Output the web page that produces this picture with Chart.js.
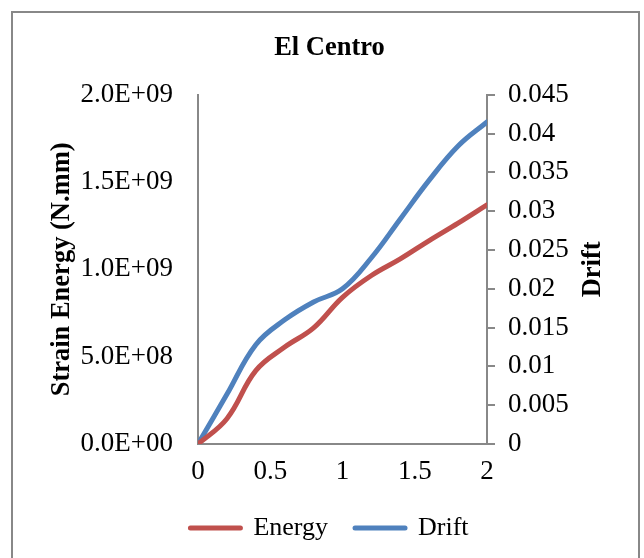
<!DOCTYPE html>
<html>
<head>
<meta charset="utf-8">
<title>El Centro</title>
<script src="https://cdn.jsdelivr.net/npm/chart.js@4"></script>
<style>
  html, body { margin: 0; padding: 0; background: #fff; }
  #wrap { position: relative; width: 644px; height: 558px; }
</style>
</head>
<body>
<div id="wrap"><canvas id="energyChart" width="644" height="558"></canvas></div>
<script>
// Data
const xValues = [0, 0.2, 0.4, 0.6, 0.8, 1.0, 1.2, 1.4, 1.6, 1.8, 2.0];
const energyValues = [0, 1.45e8, 4.2e8, 5.55e8, 6.65e8, 8.4e8, 9.65e8, 1.06e9, 1.165e9, 1.265e9, 1.37e9];
const driftValues = [0, 0.0064, 0.0128, 0.016, 0.0183, 0.0200, 0.0240, 0.0290, 0.0340, 0.0384, 0.0415];
const xTicks = [0, 0.5, 1, 1.5, 2];
const energyTicks = [0, 5e8, 1e9, 1.5e9, 2e9];
const driftTicks = [0, 0.005, 0.01, 0.015, 0.02, 0.025, 0.03, 0.035, 0.04, 0.045];

const SERIF = "'Liberation Serif', 'Times New Roman', serif";
const AXIS_GREY = '#888888';

// 2.0E+09 style labels
const formatSci = (v) => {
  if (v === 0) return '0.0E+00';
  const exp = Math.floor(Math.log10(Math.abs(v)));
  const mant = v / Math.pow(10, exp);
  return mant.toFixed(1) + 'E+' + String(exp).padStart(2, '0');
};

const formatDrift = (v) => String(Number(v.toFixed(3)));

const toPoints = (ys) => xValues.map((x, i) => ({ x: x, y: ys[i] }));

// outer frame + rotated right axis title
const framePlugin = {
  id: 'frame',
  beforeDraw(chart) {
    const ctx = chart.ctx;
    ctx.save();
    ctx.fillStyle = '#fff';
    ctx.fillRect(0, 0, chart.width, chart.height);
    ctx.strokeStyle = AXIS_GREY;
    ctx.lineWidth = 2;
    ctx.strokeRect(12, 12, 627, 560);
    ctx.restore();
  },
  afterDraw(chart) {
    const ctx = chart.ctx;
    const area = chart.chartArea;
    ctx.save();
    ctx.translate(area.right + 106, (area.top + area.bottom) / 2);
    ctx.rotate(-Math.PI / 2);
    ctx.font = 'bold 26.5px ' + SERIF;
    ctx.fillStyle = '#000';
    ctx.textAlign = 'center';
    ctx.textBaseline = 'middle';
    ctx.fillText('Drift', 0, 0);
    ctx.restore();
  }
};

Chart.defaults.color = '#000';
Chart.defaults.font.family = SERIF;

// legend samples drawn as a thick stroke only (rounded like the lines)
const legendLabels = (chart) =>
  Chart.defaults.plugins.legend.labels.generateLabels(chart).map(item => ({
    ...item,
    lineWidth: 5,
    lineCap: 'round',
    lineJoin: 'round'
  }));

new Chart(document.getElementById('energyChart'), {
  type: 'line',
  data: {
    datasets: [
      {
        label: 'Energy',
        data: toPoints(energyValues),
        yAxisID: 'y',
        borderColor: '#C0504D',
        backgroundColor: '#C0504D',
        borderWidth: 5,
        borderCapStyle: 'round',
        borderJoinStyle: 'round',
        pointRadius: 0,
        tension: 0.4
      },
      {
        label: 'Drift',
        data: toPoints(driftValues),
        yAxisID: 'y1',
        borderColor: '#4F81BD',
        backgroundColor: '#4F81BD',
        borderWidth: 5,
        borderCapStyle: 'round',
        borderJoinStyle: 'round',
        pointRadius: 0,
        tension: 0.4
      }
    ]
  },
  options: {
    responsive: false,
    animation: false,
    layout: { padding: { left: 15, right: 0, top: 0, bottom: 7 } },
    plugins: {
      title: {
        display: true,
        text: 'El Centro',
        font: { size: 26.5, weight: 'bold', family: SERIF },
        padding: { top: 32, bottom: 31 }
      },
      legend: {
        position: 'bottom',
        labels: {
          boxWidth: 50,
          boxHeight: 0,
          padding: 27,
          font: { size: 26, family: SERIF },
          generateLabels: legendLabels
        }
      },
      tooltip: { enabled: false }
    },
    scales: {
      x: {
        type: 'linear',
        min: 0,
        max: 2,
        afterBuildTicks: (s) => { s.ticks = xTicks.map(v => ({ value: v })); },
        afterFit: (s) => { s.height = 44; },
        grid: { display: false },
        border: { display: true, color: AXIS_GREY, width: 2 },
        ticks: { padding: 4, font: { size: 27 }, callback: (v) => String(v) }
      },
      y: {
        position: 'left',
        min: 0,
        max: 2e9,
        afterBuildTicks: (s) => { s.ticks = energyTicks.map(v => ({ value: v })); },
        afterFit: (s) => { s.width = 183; },
        grid: { display: false },
        border: { display: true, color: AXIS_GREY, width: 2 },
        ticks: { padding: 17, font: { size: 27 }, callback: formatSci },
        title: {
          display: true,
          text: 'Strain Energy (N.mm)',
          font: { size: 26.5, weight: 'bold' },
          padding: { top: 31, bottom: 0 }
        }
      },
      y1: {
        position: 'right',
        min: 0,
        max: 0.045,
        afterBuildTicks: (s) => { s.ticks = driftTicks.map(v => ({ value: v })); },
        afterFit: (s) => { s.width = 157; },
        grid: { display: true, drawOnChartArea: false, drawTicks: true, tickLength: 8, color: AXIS_GREY, lineWidth: 2 },
        border: { display: true, color: AXIS_GREY, width: 2 },
        ticks: { padding: 13, font: { size: 27 }, callback: formatDrift }
      }
    }
  },
  plugins: [framePlugin]
});
</script>
</body>
</html>
